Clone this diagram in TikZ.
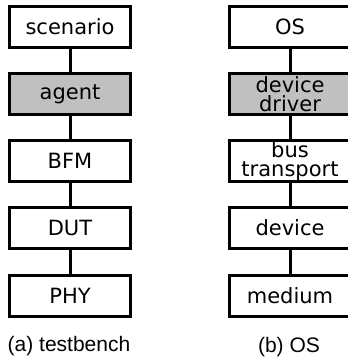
\documentclass[tikz,border=0pt]{standalone}
\usepackage{fontspec}
\setmainfont{DejaVu Sans}
\newfontfamily\capfont{Liberation Sans}
\definecolor{boxgray}{RGB}{192,192,192}
\tikzset{
  layer/.style={draw=black, line width=3bp, minimum width=120bp, minimum height=41bp, inner sep=0pt, align=center, font=\fontsize{21bp}{19bp}\selectfont},
  shaded/.style={layer, fill=boxgray},
  link/.style={line width=3bp},
  caption/.style={font=\capfont\fontsize{21bp}{24bp}\selectfont, inner sep=0pt}
}
\begin{document}
\begin{tikzpicture}[x=1bp,y=-1bp]
\useasboundingbox (0,0) rectangle (348,362);
% left column
\node[layer]  (sc)  at (70,26.5) {scenario};
\node[shaded] (ag)  at (70,94) {agent};
\node[layer]  (bfm) at (70,161) {BFM};
\node[layer]  (dut) at (70,228) {DUT};
\node[layer]  (phy) at (70,296) {PHY};
\draw[link] (sc) -- (ag);
\draw[link] (ag) -- (bfm);
\draw[link] (bfm) -- (dut);
\draw[link] (dut) -- (phy);
\node[caption] (capa) at (69,346) {(a) testbench};
% right column
\node[layer]  (os)  at (290,26.5) {OS};
\node[shaded] (dd)  at (290,94) {device\\driver};
\node[layer]  (bt)  at (290,161) {bus\\transport};
\node[layer]  (dev) at (290,228) {device};
\node[layer]  (med) at (290,296) {medium};
\draw[link] (os) -- (dd);
\draw[link] (dd) -- (bt);
\draw[link] (bt) -- (dev);
\draw[link] (dev) -- (med);
\node[caption] (capb) at (289,347) {(b) OS};
\end{tikzpicture}
\end{document}
